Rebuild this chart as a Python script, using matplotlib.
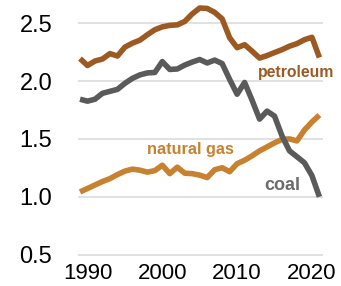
import matplotlib
matplotlib.use("Agg")
import matplotlib.pyplot as plt

years = list(range(1989, 2022))

petroleum = [2.194, 2.134, 2.173, 2.190, 2.237, 2.216, 2.293, 2.327, 2.353, 2.400,
             2.443, 2.468, 2.481, 2.485, 2.515, 2.580, 2.631, 2.627, 2.593, 2.537,
             2.374, 2.288, 2.314, 2.258, 2.198, 2.220, 2.246, 2.271, 2.301, 2.323,
             2.357, 2.378, 2.203]

coal = [1.843, 1.826, 1.843, 1.894, 1.911, 1.928, 1.980, 2.023, 2.053, 2.070,
        2.074, 2.168, 2.100, 2.104, 2.138, 2.164, 2.186, 2.156, 2.181, 2.151,
        2.014, 1.886, 1.988, 1.834, 1.671, 1.740, 1.697, 1.526, 1.397, 1.346,
        1.294, 1.183, 1.000]

natural_gas = [1.042, 1.072, 1.102, 1.132, 1.157, 1.192, 1.222, 1.239, 1.230, 1.213,
               1.226, 1.273, 1.200, 1.256, 1.204, 1.200, 1.187, 1.166, 1.234, 1.251,
               1.217, 1.286, 1.316, 1.354, 1.397, 1.431, 1.466, 1.496, 1.500, 1.483,
               1.577, 1.646, 1.706]

x_ticks = [1990, 2000, 2010, 2020]
y_ticks = [0.5, 1.0, 1.5, 2.0, 2.5]
y_tick_labels = ["0.5", "1.0", "1.5", "2.0", "2.5"]

c_pet = "#9C5A22"
c_gas = "#C8812F"
c_coal = "#5A5A5A"

plt.rcParams['font.family'] = ['Liberation Sans', 'DejaVu Sans']

fig = plt.figure(figsize=(3.41, 2.86), dpi=100)
ax = fig.add_axes([78/341, 29/286, 245/341, 257/286])

for yv in y_ticks:
    ax.axhline(yv, color="#D9D9D9", lw=1.1, zorder=1)

kw = dict(lw=4.0, solid_joinstyle='round', solid_capstyle='butt', zorder=3)
ax.plot(years, natural_gas, color=c_gas, **kw)
ax.plot(years, petroleum, color=c_pet, **kw)
ax.plot(years, coal, color=c_coal, **kw)

ax.text(2017.9, 2.031, "petroleum", color=c_pet, fontsize=11.3, fontweight='bold',
        ha='center', va='baseline')
ax.text(2003.8, 1.372, "natural gas", color=c_gas, fontsize=11.7, fontweight='bold',
        ha='center', va='baseline')
ax.text(2016.0, 1.063, "coal", color="#6B6B6B", fontsize=13, fontweight='bold',
        ha='center', va='baseline')

ax.set_xlim(1988.73, 2021.48)
ax.set_ylim(0.48, 2.7)
ax.set_xticks(x_ticks)
ax.set_xticklabels([str(v) for v in x_ticks], fontsize=16)
ax.set_yticks(y_ticks)
ax.set_yticklabels(y_tick_labels, fontsize=17)
ax.tick_params(axis='y', length=0, pad=18.5)
ax.tick_params(axis='x', length=0, pad=4)
for s in ax.spines.values():
    s.set_visible(False)

fig.savefig("out.png", dpi=100)
